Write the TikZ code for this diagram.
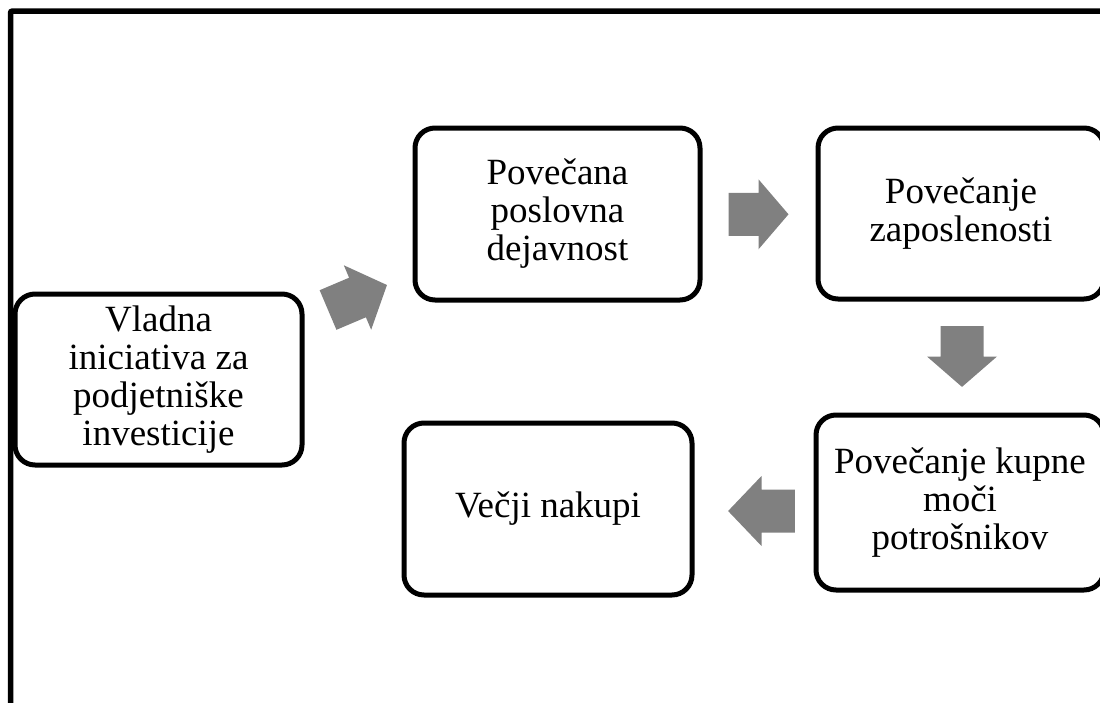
\documentclass[tikz,border=0pt]{standalone}
\usepackage{fontspec}
\setmainfont{Liberation Serif}
\newcommand\blockarrow[3]{\fill[arrowfill, shift={#1}, rotate=#2] (-#3,-21.5) -- (0,-21.5) -- (0,-35) -- (#3,0) -- (0,35) -- (0,21.5) -- (-#3,21.5) -- cycle;}
\begin{document}
\begin{tikzpicture}[x=1pt,y=-1pt,
  box/.style={draw=black, line width=5pt, rounded corners=20pt, fill=white, align=center, inner sep=2pt,
    font=\fontsize{37}{38}\selectfont},
  arrowfill/.style={fill=gray}]
\clip (0,0) rectangle (1100,702);
\fill[white] (0,0) rectangle (1100,702);
\draw[line width=5.5pt, rounded corners=2pt] (10.5,11) rectangle (1120,720);
\node[box, minimum width=287pt, minimum height=171pt] (a) at (158.5,379.5) {Vladna\\iniciativa za\\podjetniške\\investicije};
\node[box, minimum width=285pt, minimum height=172pt] (b) at (557.5,214) {Povečana\\poslovna\\dejavnost};
\node[box, minimum width=286pt, minimum height=171pt] (c) at (961,213.5) {Povečanje\\zaposlenosti};
\node[box, minimum width=288pt, minimum height=175pt] (d) at (960,502.5) {Povečanje kupne\\moči\\potrošnikov};
\node[box, minimum width=288pt, minimum height=172pt] (e) at (548,509) {Večji nakupi};
\blockarrow{(357.5,297.5)}{23}{32}
\blockarrow{(758.5,214.3)}{0}{30}
\blockarrow{(962,356.5)}{-90}{30.4}
\blockarrow{(761.5,511)}{180}{33.4}
\end{tikzpicture}
\end{document}
